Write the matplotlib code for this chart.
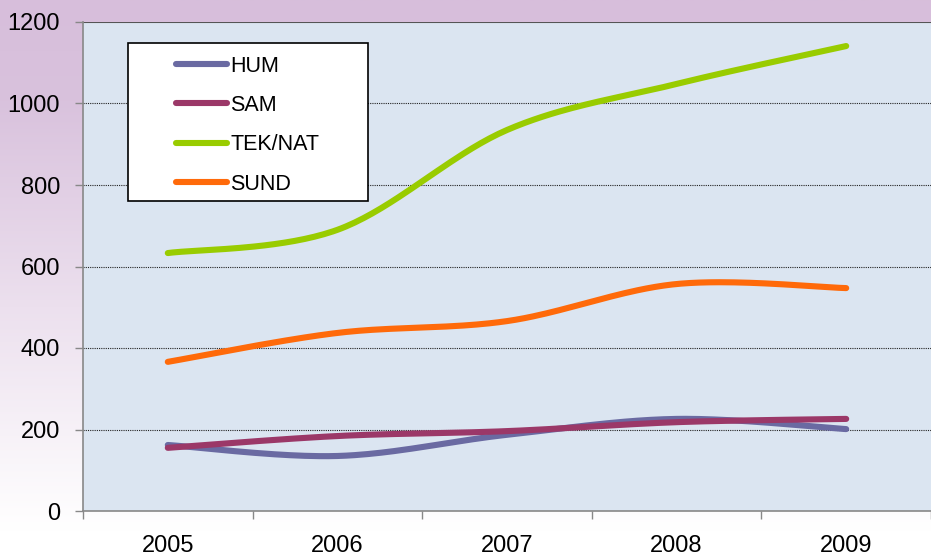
import numpy as np
import matplotlib
matplotlib.use("Agg")
import matplotlib.pyplot as plt
from matplotlib.patches import Rectangle
from matplotlib.colors import LinearSegmentedColormap

plt.rcParams['font.family'] = ['Liberation Sans', 'DejaVu Sans']

years = ["2005", "2006", "2007", "2008", "2009"]
series_names = ["HUM", "SAM", "TEK/NAT", "SUND"]
hum = [162, 135, 187, 226, 201]
sam = [155, 184, 196, 218, 226]
teknat = [633, 690, 935, 1048, 1141]
sund = [366, 437, 466, 557, 547]
colors = ["#6a6aa2", "#9b3868", "#99cc00", "#ff6a0a"]
yticks = [0, 200, 400, 600, 800, 1000, 1200]


def smooth(xs, ys, n=40):
    xs = np.asarray(xs, float)
    ys = np.asarray(ys, float)
    P = np.column_stack([xs, ys])
    Pp = np.vstack([P[0], P, P[-1]])
    out = []
    t = np.linspace(0, 1, n)[:, None]
    for i in range(len(P) - 1):
        p0, p1, p2, p3 = Pp[i], Pp[i + 1], Pp[i + 2], Pp[i + 3]
        c1 = p1 + (p2 - p0) / 6.0
        c2 = p2 - (p3 - p1) / 6.0
        seg = ((1 - t) ** 3) * p1 + 3 * ((1 - t) ** 2) * t * c1 + 3 * (1 - t) * t ** 2 * c2 + t ** 3 * p2
        out.append(seg if i == 0 else seg[1:])
    arr = np.vstack(out)
    return arr[:, 0], arr[:, 1]


W, H = 931, 558
fig = plt.figure(figsize=(W / 100, H / 100), dpi=100)

# background gradient
bg = fig.add_axes([0, 0, 1, 1], zorder=-10)
cmap = LinearSegmentedColormap.from_list(
    "bg", [(0.0, "#d7bedb"), (0.18, "#d9c2dd"), (0.55, "#ece0ee"), (0.95, "#ffffff"), (1.0, "#ffffff")], N=256)
grad = np.linspace(0, 1, 256)[:, None]
bg.imshow(grad, aspect='auto', cmap=cmap, extent=[0, 1, 0, 1], origin='upper')
bg.axis('off')

left, right = 83 / W, 1.0
bottom, top = 1 - 511 / H, 1 - 22 / H
ax = fig.add_axes([left, bottom, right - left, top - bottom])
ax.set_facecolor("#dbe5f1")

xs = np.arange(len(years))
cat_px = 171.3
ax.set_xlim(-0.5, -0.5 + (W - 83) / cat_px)
ax.set_ylim(0, 1200)

for vals, c, name in zip([hum, sam, teknat, sund], colors, series_names):
    sx, sy = smooth(xs, vals)
    ax.plot(sx, sy, color=c, lw=4.4, solid_capstyle='round', label=name, zorder=3)

for v in yticks[1:-1]:
    ax.axhline(v, color="#222222", lw=0.8, ls=(0, (1, 1)), zorder=1)
ax.axhline(1200, color="#555555", lw=1.5, zorder=1)

ax.set_yticks(yticks)
ax.set_yticklabels([str(v) for v in yticks], fontsize=17)
ax.set_xticks(xs)
ax.set_xticklabels(years, fontsize=17)
ax.set_xticks(np.arange(-0.5, 5.0, 1.0), minor=True)
ax.tick_params(axis='x', which='major', length=0, pad=17)
ax.tick_params(axis='x', which='minor', length=5.5, width=1, color="#888888", direction='out')
ax.tick_params(axis='y', length=5.5, width=1, color="#888888", direction='out', pad=11)
for s in ['top', 'right']:
    ax.spines[s].set_visible(False)
for s in ['left', 'bottom']:
    ax.spines[s].set_color("#888888")
    ax.spines[s].set_linewidth(1.2)

# legend box
fig.patches.append(Rectangle((128 / W, 1 - 201 / H), 240 / W, 158 / H, transform=fig.transFigure,
                             facecolor='white', edgecolor='black', lw=1.2, zorder=5))
leg = fig.legend(loc='upper left', bbox_to_anchor=(167 / W, 1 - 47 / H), frameon=False,
                 fontsize=15.5, handlelength=2.4, handletextpad=0.15, labelspacing=0.85,
                 borderaxespad=0)
leg.set_zorder(6)

fig.savefig("out.png", dpi=100)
